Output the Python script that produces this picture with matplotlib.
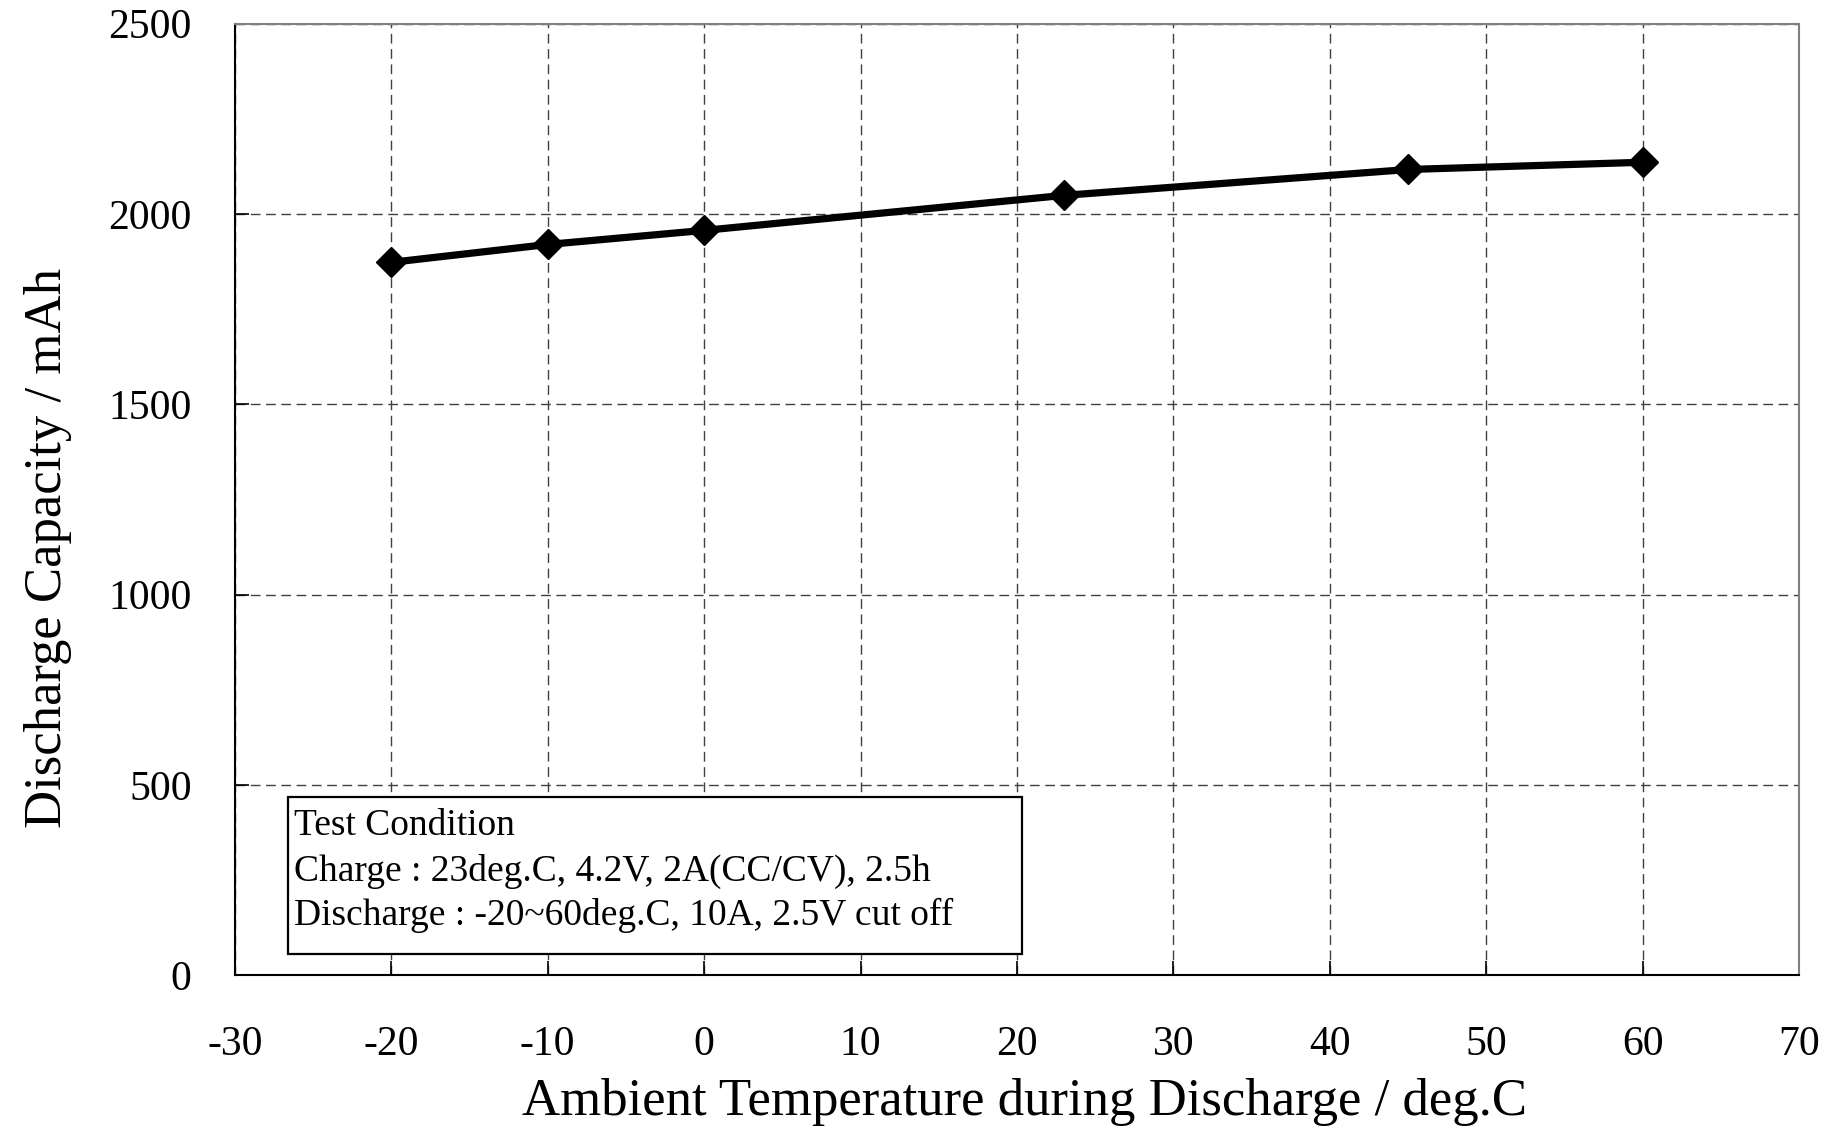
import matplotlib
matplotlib.use("Agg")
import matplotlib.pyplot as plt
from matplotlib.patches import Rectangle

# measured points
temperature = [-20, -10, 0, 23, 45, 60]
capacity = [1873, 1920, 1957, 2049, 2117, 2136]

x_ticks = [-30, -20, -10, 0, 10, 20, 30, 40, 50, 60, 70]
y_ticks = [0, 500, 1000, 1500, 2000, 2500]

condition_lines = [
    "Test Condition",
    "Charge : 23deg.C, 4.2V, 2A(CC/CV), 2.5h",
    "Discharge : -20~60deg.C, 10A, 2.5V cut off",
]

plt.rcParams["font.family"] = ["Liberation Serif", "DejaVu Serif"]
plt.rcParams["axes.unicode_minus"] = False

fig, ax = plt.subplots(figsize=(18.34, 11.3), dpi=100)
fig.subplots_adjust(left=0.128, right=0.981, top=0.979, bottom=0.137)

ax.plot(temperature, capacity, color="black", lw=5.2, marker="D",
        markersize=15, zorder=5, clip_on=False)

ax.set_xlim(-30, 70)
ax.set_ylim(0, 2500)
ax.set_xticks(x_ticks)
ax.set_yticks(y_ticks)
ax.tick_params(axis="both", direction="in", length=10, width=1.2,
               labelsize=30, color="black")
ax.tick_params(axis="x", pad=36)
ax.tick_params(axis="y", pad=31)

ax.grid(True, color="#404040", lw=1.0, linestyle=(0, (7, 4)))
ax.set_axisbelow(True)

for side in ["left", "bottom"]:
    ax.spines[side].set_color("black")
    ax.spines[side].set_linewidth(1.5)
for side in ["top", "right"]:
    ax.spines[side].set_color("#808080")
    ax.spines[side].set_linewidth(1.5)

ax.set_xlabel("Ambient Temperature during Discharge / deg.C", fontsize=38)
ax.set_ylabel("Discharge Capacity / mAh", fontsize=38)
ax.xaxis.set_label_coords(0.505, -0.108)
ax.yaxis.set_label_coords(-0.104, 0.449)

# test condition box
box = Rectangle((0.0343, 0.022), 0.503 - 0.0343, 0.187 - 0.022,
                transform=ax.transAxes, facecolor="white", edgecolor="black",
                lw=1.6, zorder=3)
ax.add_patch(box)
for txt, yb in zip(condition_lines, [0.147, 0.0995, 0.0525]):
    ax.text(0.038, yb, txt, transform=ax.transAxes, fontsize=27,
            va="baseline", ha="left", zorder=4)

fig.savefig("out.png", dpi=100)
